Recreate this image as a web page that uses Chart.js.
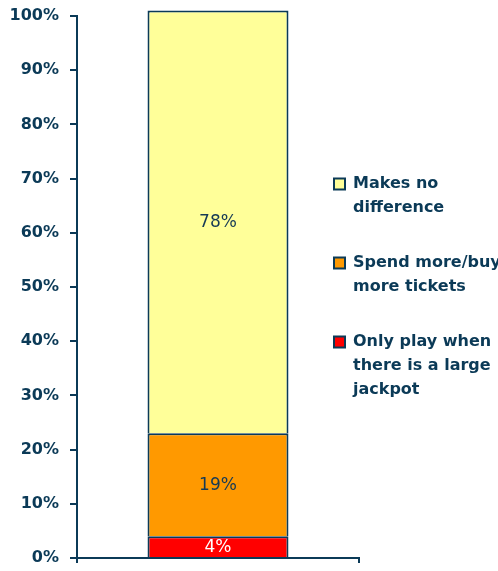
<!DOCTYPE html>
<html>
<head>
<meta charset="utf-8">
<script src="https://cdn.jsdelivr.net/npm/chart.js@4/dist/chart.umd.min.js"></script>
<style>
  html, body { margin: 0; padding: 0; background: #ffffff; }
  #wrap { width: 498px; height: 571px; }
</style>
</head>
<body>
<div id="wrap"><canvas id="c" width="498" height="571"></canvas></div>
<script>
// ---- data ----
const categories = [''];
const seriesNames = [
  ['Only play when', 'there is a large', 'jackpot'],
  ['Spend more/buy', 'more tickets'],
  ['Makes no', 'difference']
];
const jackpotOnly = [4];
const spendMore = [19];
const noDifference = [78];
const yTickLabels = ['0%', '10%', '20%', '30%', '40%', '50%', '60%', '70%', '80%', '90%', '100%'];

// ---- styles ----
const NAVY = '#0b3a57';
const FONT = "'DejaVu Sans', Verdana, sans-serif";
const fillColors = ['#FF0000', '#FF9900', '#FFFF99'];
const valueLabelColors = ['#ffffff', '#163a55', '#163a55'];

const seriesValues = [jackpotOnly, spendMore, noDifference];

const datasets = seriesValues.map((vals, i) => ({
  label: seriesNames[i],
  data: vals,
  backgroundColor: fillColors[i],
  borderColor: NAVY,
  borderWidth: 2,
  categoryPercentage: 1,
  barPercentage: 0.5,
  clip: false
}));

const barValueLabels = {
  id: 'barValueLabels',
  afterDatasetsDraw(chart) {
    const ctx = chart.ctx;
    chart.data.datasets.forEach((ds, i) => {
      const meta = chart.getDatasetMeta(i);
      meta.data.forEach((bar, j) => {
        const p = bar.getProps(['x', 'y', 'base'], true);
        ctx.save();
        ctx.font = '17px ' + FONT;
        ctx.fillStyle = valueLabelColors[i];
        ctx.textAlign = 'center';
        ctx.textBaseline = 'middle';
        ctx.fillText(ds.data[j] + '%', p.x, (p.y + p.base) / 2 + 1);
        ctx.restore();
      });
    });
  }
};

const legendPlacement = {
  id: 'legendPlacement',
  afterLayout(chart) {
    const lg = chart.legend;
    if (!lg) return;
    lg.left = 303;
    lg.right = 498;
    lg.width = 498 - 303;
    lg.top = 145;
  }
};

new Chart(document.getElementById('c'), {
  type: 'bar',
  data: { labels: categories, datasets },
  plugins: [barValueLabels, legendPlacement],
  options: {
    responsive: false,
    devicePixelRatio: 1,
    animation: false,
    layout: { padding: { top: 16, right: 0, bottom: 0, left: 0 } },
    plugins: {
      tooltip: { enabled: false },
      legend: {
        position: 'right',
        align: 'start',
        maxWidth: 139,
        reverse: true,
        labels: {
          boxWidth: 11,
          boxHeight: 11,
          padding: 31,
          color: NAVY,
          font: { family: FONT, size: 16, weight: 'bold', lineHeight: 1.5 }
        }
      }
    },
    scales: {
      x: {
        stacked: true,
        ticks: { display: false },
        grid: { offset: true, drawOnChartArea: false, drawTicks: true, tickLength: 5, color: NAVY, lineWidth: 2 },
        border: { color: NAVY, width: 2 },
        afterFit(s) { s.height = 13; }
      },
      y: {
        stacked: true,
        min: 0,
        max: 100,
        ticks: {
          stepSize: 10,
          padding: 11,
          color: NAVY,
          font: { family: FONT, size: 16, weight: 'bold' },
          callback: (v, i) => yTickLabels[i]
        },
        grid: { drawOnChartArea: false, drawTicks: true, tickLength: 7, color: NAVY, lineWidth: 2 },
        border: { color: NAVY, width: 2 },
        afterFit(s) { s.width = 77; s.paddingTop = 0; s.paddingBottom = 0; }
      }
    }
  }
});
</script>
</body>
</html>
